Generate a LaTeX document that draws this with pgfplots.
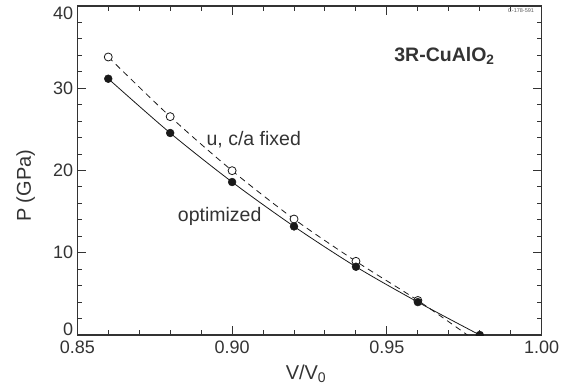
\documentclass[border=0pt]{standalone}
\usepackage{fontspec}
\setmainfont{Liberation Sans}
\usepackage{pgfplots}
\pgfplotsset{compat=1.18}
\definecolor{ink}{gray}{0.2}
\definecolor{lineink}{gray}{0.1}
\begin{document}
\begin{tikzpicture}
\path[use as bounding box] (-77.3pt,-56pt) rectangle (491.7pt,335pt);
\begin{axis}[
  at={(0pt,0pt)}, anchor=south west,
  width=464.4pt, height=329pt, scale only axis,
  xmin=0.85, xmax=1.00, ymin=0, ymax=40,
  xtick={0.85,0.90,0.95,1.00},
  ytick={0,10,20,30,40},
  minor x tick num=4, minor y tick num=4,
  tick align=inside,
  major tick length=9pt, minor tick length=4.7pt,
  axis line style={ink, line width=1.1pt},
  every tick/.style={ink, line width=1pt},
  tick label style={font=\fontsize{18}{21}\selectfont, text=ink},
  /pgf/number format/assume math mode=true,
  xticklabel style={/pgf/number format/fixed, /pgf/number format/fixed zerofill, /pgf/number format/precision=2, yshift=-2pt},
  yticklabel style={inner sep=4pt, yshift={ifthenelse(\tick<5,6pt,ifthenelse(\tick>35,-7pt,0pt))}},
  xlabel={V/V\textsubscript{0}},
  ylabel={P (GPa)},
  label style={font=\fontsize{20}{24}\selectfont, text=ink},
  xlabel style={at={(axis description cs:0.4925,-0.1347)}, anchor=base},
  ylabel style={at={(axis description cs:-0.111,0.4535)}, anchor=center},
  clip marker paths=true,
]
% dashed: u, c/a fixed
\addplot[lineink, line width=0.8pt, dash pattern=on 6pt off 4.5pt, smooth, no marks] coordinates {
  (0.86,33.8) (0.88,26.55) (0.90,19.98) (0.92,14.1) (0.94,8.96) (0.96,4.2) (0.976,0)
};
% solid: optimized
\addplot[lineink, line width=0.8pt, smooth, no marks] coordinates {
  (0.86,31.16) (0.88,24.56) (0.90,18.6) (0.92,13.2) (0.94,8.3) (0.96,4.0) (0.98,0)
};
% open markers
\addplot[only marks, mark=*, mark size=4pt, mark options={draw=lineink, fill=white, line width=0.8pt}] coordinates {
  (0.86,33.8) (0.88,26.55) (0.90,19.98) (0.92,14.1) (0.94,8.96) (0.96,4.2)
};
% filled markers
\addplot[only marks, mark=*, mark size=3.9pt, mark options={draw=lineink, fill=lineink, line width=0.5pt}] coordinates {
  (0.86,31.16) (0.88,24.56) (0.90,18.6) (0.92,13.2) (0.94,8.3) (0.96,4.0) (0.98,0)
};
\node[anchor=base, text=ink, font=\fontsize{19.5}{23}\selectfont] at (axis cs:0.907,23.1) {u, c/a fixed};
\node[anchor=base, text=ink, font=\fontsize{19.5}{23}\selectfont] at (axis cs:0.896,13.78) {optimized};
\node[anchor=base, text=ink, font=\fontsize{19.5}{23}\selectfont\bfseries] at (axis cs:0.9686,33.3) {3R-CuAlO\textsubscript{2}};
\node[anchor=center, text=ink!80, font=\fontsize{5.5}{6}\selectfont] at (axis cs:0.9933,39.5) {C-178-591};
\end{axis}
\end{tikzpicture}
\end{document}
